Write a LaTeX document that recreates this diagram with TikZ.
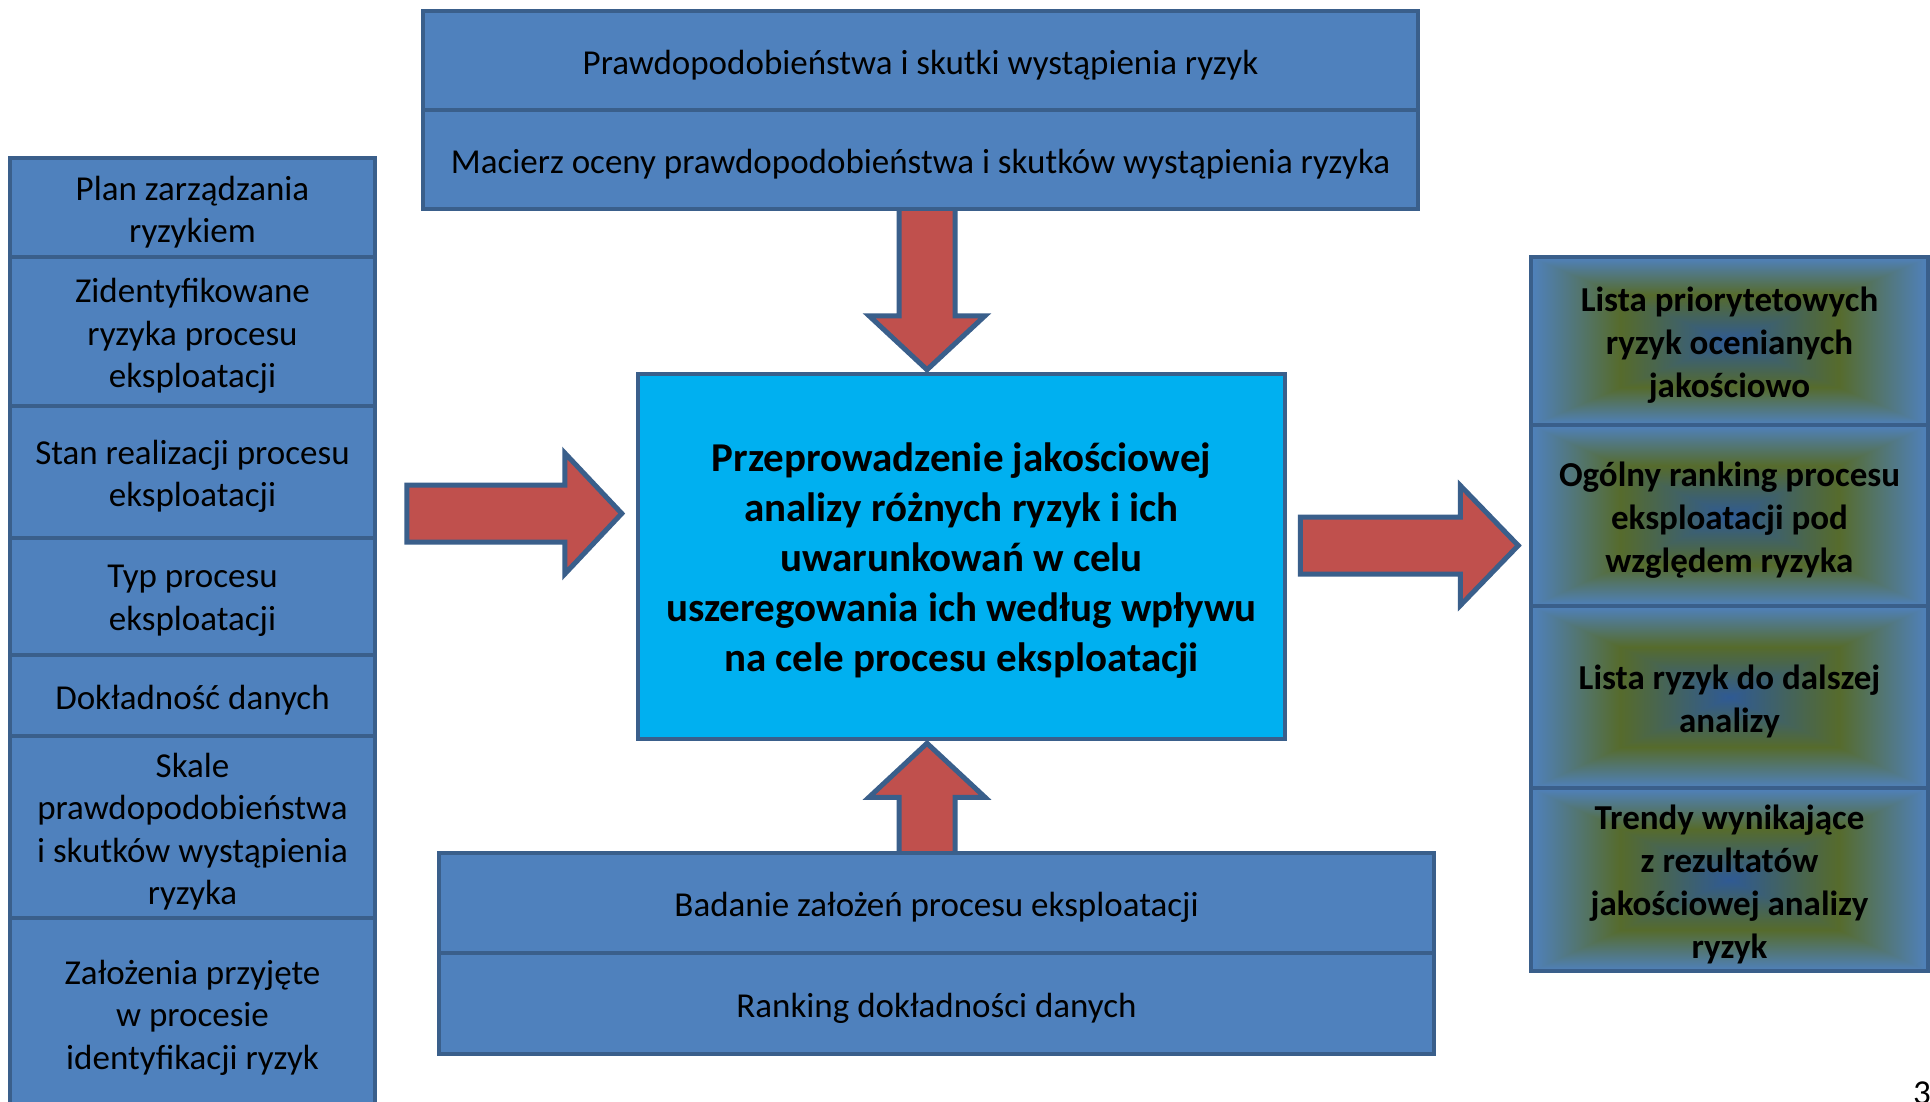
\documentclass[tikz,border=0pt]{standalone}
\usepackage{fontspec}
\setmainfont{Carlito}
\usetikzlibrary{calc}
\definecolor{boxc}{HTML}{4F81BD}
\definecolor{bordc}{HTML}{3A5F8B}
\definecolor{centc}{HTML}{00B0F0}
\definecolor{arrc}{HTML}{C0504D}
% rectangular gradient: dark blue centre -> olive -> blue edge
\pgfdeclarefunctionalshading{rectg}{\pgfpoint{0bp}{0bp}}{\pgfpoint{100bp}{100bp}}{}{
  50 sub abs exch 50 sub abs
  2 copy lt {exch} if pop
  25 div
  dup 0.55 lt {
    0.55 div
    dup 0.153 mul 0.184 add exch
    dup 0.067 mul 0.353 add exch
    -0.407 mul 0.580 add
  }{
    0.55 sub 0.45 div dup 1 gt {pop 1} if
    dup -0.027 mul 0.337 add exch
    dup 0.086 mul 0.420 add exch
    0.568 mul 0.173 add
  } ifelse
}
\newcommand\fnorm{\fontsize{35}{42.5}\selectfont}
\newcommand\fres{\fontsize{35}{43}\selectfont\bfseries}
\newcommand\fcent{\fontsize{41}{50}\selectfont\bfseries}
\tikzset{
  cell/.style={draw=bordc, fill=boxc, line width=4.5pt, inner sep=0pt},
  rcell/.style={draw=bordc, shading=rectg, line width=4.5pt, inner sep=0pt},
  centbox/.style={draw=bordc, fill=centc, line width=4.5pt, inner sep=0pt},
  ntxt/.style={align=center, font=\fnorm, text=black, inner sep=0pt},
  btxt/.style={align=center, font=\fres, text=black, inner sep=0pt},
  ctxt/.style={align=center, font=\fcent, text=black, inner sep=0pt},
  blockarrow/.style={draw=bordc, fill=arrc, line width=5pt, line join=miter}
}
% #1 name, #2 box style, #3 text style, #4 cx, #5 cy, #6 w, #7 h, #8 text
\newcommand\mkcell[8]{%
  \node[#2, minimum width=#6pt, minimum height=#7pt] (#1) at (#4,#5) {};
  \node[#3] (#1-t) at ($(#1.center)+(0,4.5)$) {#8};}
\begin{document}
\begin{tikzpicture}[x=1pt, y=-1pt]
\useasboundingbox (0,0) rectangle (1930,1101);
\clip (0,0) rectangle (1930,1101);
\fill[white] (0,0) rectangle (1930,1101);

% central box
\mkcell{ctr}{centbox}{ctxt}{961.5}{556.5}{647}{365}
  {Przeprowadzenie jakościowej\\analizy różnych ryzyk i ich\\uwarunkowań w celu\\uszeregowania ich według wpływu\\na cele procesu eksploatacji}

% arrows (drawn before the boxes they leave)
\coordinate (tipL) at ($(ctr.west)+(-14,-43)$);
\coordinate (tipR) at ($(ctr.east)+(231,-11)$);
\coordinate (tipD) at ($(ctr.north)+(-34.5,-2)$);
\coordinate (tipU) at ($(ctr.south)+(-34.5,2)$);
\draw[blockarrow] (tipL) -- ++(-57,-60.5) -- ++(0,32) -- ++(-158,0) -- ++(0,57) -- ++(158,0) -- ++(0,32) -- cycle;
\draw[blockarrow] (tipR) -- ++(-58,-60) -- ++(0,31.5) -- ++(-160,0) -- ++(0,57) -- ++(160,0) -- ++(0,31.5) -- cycle;
\draw[blockarrow] (tipD) -- ++(-58,-54) -- ++(30,0) -- ++(0,-112) -- ++(56,0) -- ++(0,112) -- ++(30,0) -- cycle;
\draw[blockarrow] (tipU) -- ++(-58,54) -- ++(30,0) -- ++(0,60) -- ++(56,0) -- ++(0,-60) -- ++(30,0) -- cycle;

% top box
\mkcell{t1}{cell}{ntxt}{920.5}{60.5}{995}{99}{Prawdopodobieństwa i skutki wystąpienia ryzyk}
\mkcell{t2}{cell}{ntxt}{920.5}{159.5}{995}{99}{Macierz oceny prawdopodobieństwa i skutków wystąpienia ryzyka}

% bottom box
\mkcell{b1}{cell}{ntxt}{936.5}{903}{995}{100}{Badanie założeń procesu eksploatacji}
\mkcell{b2}{cell}{ntxt}{936.5}{1003.5}{995}{101}{Ranking dokładności danych}

% left column
\mkcell{l1}{cell}{ntxt}{192.5}{207.5}{365}{99}{Plan zarządzania\\ryzykiem}
\mkcell{l2}{cell}{ntxt}{192.5}{331.5}{365}{149}{Zidentyfikowane\\ryzyka procesu\\eksploatacji}
\mkcell{l3}{cell}{ntxt}{192.5}{472}{365}{132}{Stan realizacji procesu\\eksploatacji}
\mkcell{l4}{cell}{ntxt}{192.5}{596.5}{365}{117}{Typ procesu\\eksploatacji}
\mkcell{l5}{cell}{ntxt}{192.5}{695.5}{365}{81}{Dokładność danych}
\mkcell{l6}{cell}{ntxt}{192.5}{827}{365}{182}{Skale\\prawdopodobieństwa\\i skutków wystąpienia\\ryzyka}
\mkcell{l7}{cell}{ntxt}{192.5}{1013}{365}{190}{Założenia przyjęte\\w procesie\\identyfikacji ryzyk}

% right column
\mkcell{r1}{rcell}{btxt}{1729.5}{341}{397}{168}{Lista priorytetowych\\ryzyk ocenianych\\jakościowo}
\mkcell{r2}{rcell}{btxt}{1729.5}{515.5}{397}{181}{Ogólny ranking procesu\\eksploatacji pod\\względem ryzyka}
\mkcell{r3}{rcell}{btxt}{1729.5}{697}{397}{182}{Lista ryzyk do dalszej\\analizy}
\mkcell{r4}{rcell}{btxt}{1729.5}{879.5}{397}{183}{Trendy wynikające\\z rezultatów\\jakościowej analizy\\ryzyk}

% page number
\node[anchor=base west, inner sep=0pt, font=\fontsize{35}{42}\selectfont] (pn) at (1913,1104) {3};
\end{tikzpicture}
\end{document}
